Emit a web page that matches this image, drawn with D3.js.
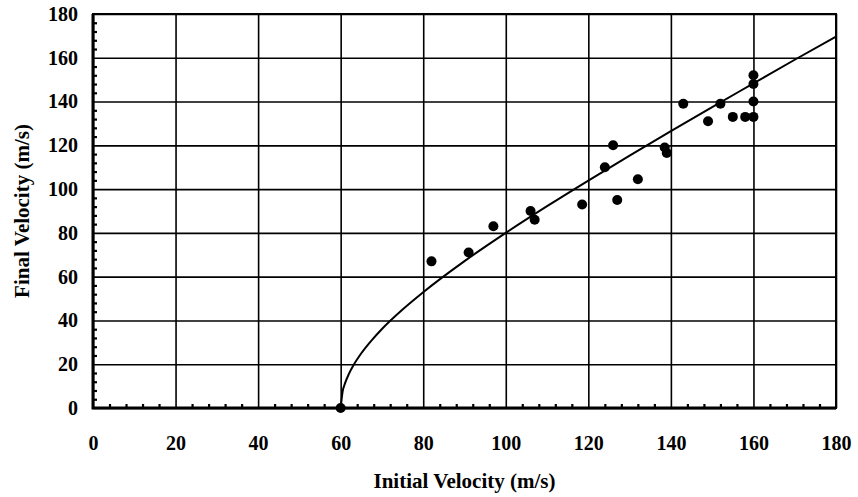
<!DOCTYPE html>
<html>
<head>
<meta charset="utf-8">
<script src="https://cdn.jsdelivr.net/npm/d3@7"></script>
<style>
  body { margin: 0; background: #fff; }
  svg text { font-family: "Liberation Serif", "Times New Roman", serif; font-weight: bold; fill: #000; }
</style>
</head>
<body>
<div id="my_dataviz"></div>
<script>
// measured points (initial velocity, final velocity)
var initialVel = [60, 82, 91, 97, 106, 107, 118.5, 124, 126, 127, 132, 138.5, 139, 143, 149, 152, 155, 158, 160, 160, 160, 160];
var finalVel   = [0, 67, 71, 83, 90, 86, 93, 110, 120, 95, 104.5, 119, 116.5, 139, 131, 139, 133, 133, 133, 140, 148, 152];

// curve
var curveX = [60, 60.5, 61, 62, 63, 65, 67.5, 70, 75, 80, 90, 100, 110, 120, 130, 140, 150, 160, 170, 180];
var curveY = [0, 7.8, 11, 15.6, 19.2, 25, 30.9, 36.1, 45, 52.9, 67.1, 80, 92.2, 103.9, 115.3, 126.5, 137.5, 148.3, 159.1, 169.7];

var xTicks = [0, 20, 40, 60, 80, 100, 120, 140, 160, 180];
var yTicks = [0, 20, 40, 60, 80, 100, 120, 140, 160, 180];

var margin = {top: 14, right: 22, bottom: 89, left: 93},
    width = 858 - margin.left - margin.right,
    height = 497 - margin.top - margin.bottom;

var svg = d3.select("#my_dataviz")
  .append("svg")
    .attr("width", 858)
    .attr("height", 497)
  .append("g")
    .attr("transform", "translate(" + margin.left + "," + margin.top + ")");

var x = d3.scaleLinear().domain([0, 180]).range([0, width]);
var y = d3.scaleLinear().domain([0, 180]).range([height, 0]);

var minor = d3.range(0, 181, 4).filter(function(d) { return d % 20 != 0; });

// grid lines
svg.append("g")
  .attr("class", "grid")
  .attr("transform", "translate(0," + height + ")")
  .call(d3.axisBottom(x).tickValues(xTicks).tickSize(-height).tickFormat(""))
  .call(function(g) { g.select(".domain").remove(); });
svg.append("g")
  .attr("class", "grid")
  .call(d3.axisLeft(y).tickValues(yTicks).tickSize(-width).tickFormat(""))
  .call(function(g) { g.select(".domain").remove(); });
svg.selectAll(".grid line").attr("stroke", "#000").attr("stroke-width", 1.6);

// minor ticks pointing inward
svg.append("g")
  .attr("transform", "translate(0," + height + ")")
  .call(d3.axisBottom(x).tickValues(minor).tickSize(-4).tickFormat(""))
  .call(function(g) { g.select(".domain").remove(); })
  .selectAll("line").attr("stroke", "#000").attr("stroke-width", 2.2);
svg.append("g")
  .call(d3.axisLeft(y).tickValues(minor).tickSize(-4).tickFormat(""))
  .call(function(g) { g.select(".domain").remove(); })
  .selectAll("line").attr("stroke", "#000").attr("stroke-width", 2.2);

// frame
svg.append("rect")
  .attr("x", 0).attr("y", 0)
  .attr("width", width).attr("height", height)
  .attr("fill", "none").attr("stroke", "#000").attr("stroke-width", 2);
svg.append("path")
  .attr("d", "M0,0V" + height + "H" + width)
  .attr("fill", "none").attr("stroke", "#000").attr("stroke-width", 3);

// tick labels
svg.append("g")
  .attr("transform", "translate(0," + height + ")")
  .call(d3.axisBottom(x).tickValues(xTicks).tickSize(0).tickPadding(28))
  .call(function(g) { g.select(".domain").remove(); })
  .selectAll("text").style("font-size", "20px");
svg.append("g")
  .call(d3.axisLeft(y).tickValues(yTicks).tickSize(0).tickPadding(15))
  .call(function(g) { g.select(".domain").remove(); })
  .selectAll("text").style("font-size", "20px");

// fitted curve
var pts = curveX.map(function(d, i) { return [d, curveY[i]]; });
svg.append("path")
  .datum(pts)
  .attr("fill", "none")
  .attr("stroke", "#000")
  .attr("stroke-width", 2)
  .attr("d", d3.line()
    .x(function(d) { return x(d[0]); })
    .y(function(d) { return y(d[1]); })
    .curve(d3.curveMonotoneX));

// dots
svg.selectAll("circle.pt")
  .data(initialVel)
  .enter()
  .append("circle")
    .attr("class", "pt")
    .attr("cx", function(d) { return x(d); })
    .attr("cy", function(d, i) { return y(finalVel[i]); })
    .attr("r", 5)
    .attr("fill", "#000");

// axis titles
svg.append("text")
  .attr("x", width / 2)
  .attr("y", height + 80)
  .attr("text-anchor", "middle")
  .style("font-size", "21px")
  .text("Initial Velocity (m/s)");
svg.append("text")
  .attr("transform", "translate(" + (-64) + "," + (height / 2) + ")rotate(-90)")
  .attr("text-anchor", "middle")
  .style("font-size", "21px")
  .text("Final Velocity (m/s)");
</script>
</body>
</html>
